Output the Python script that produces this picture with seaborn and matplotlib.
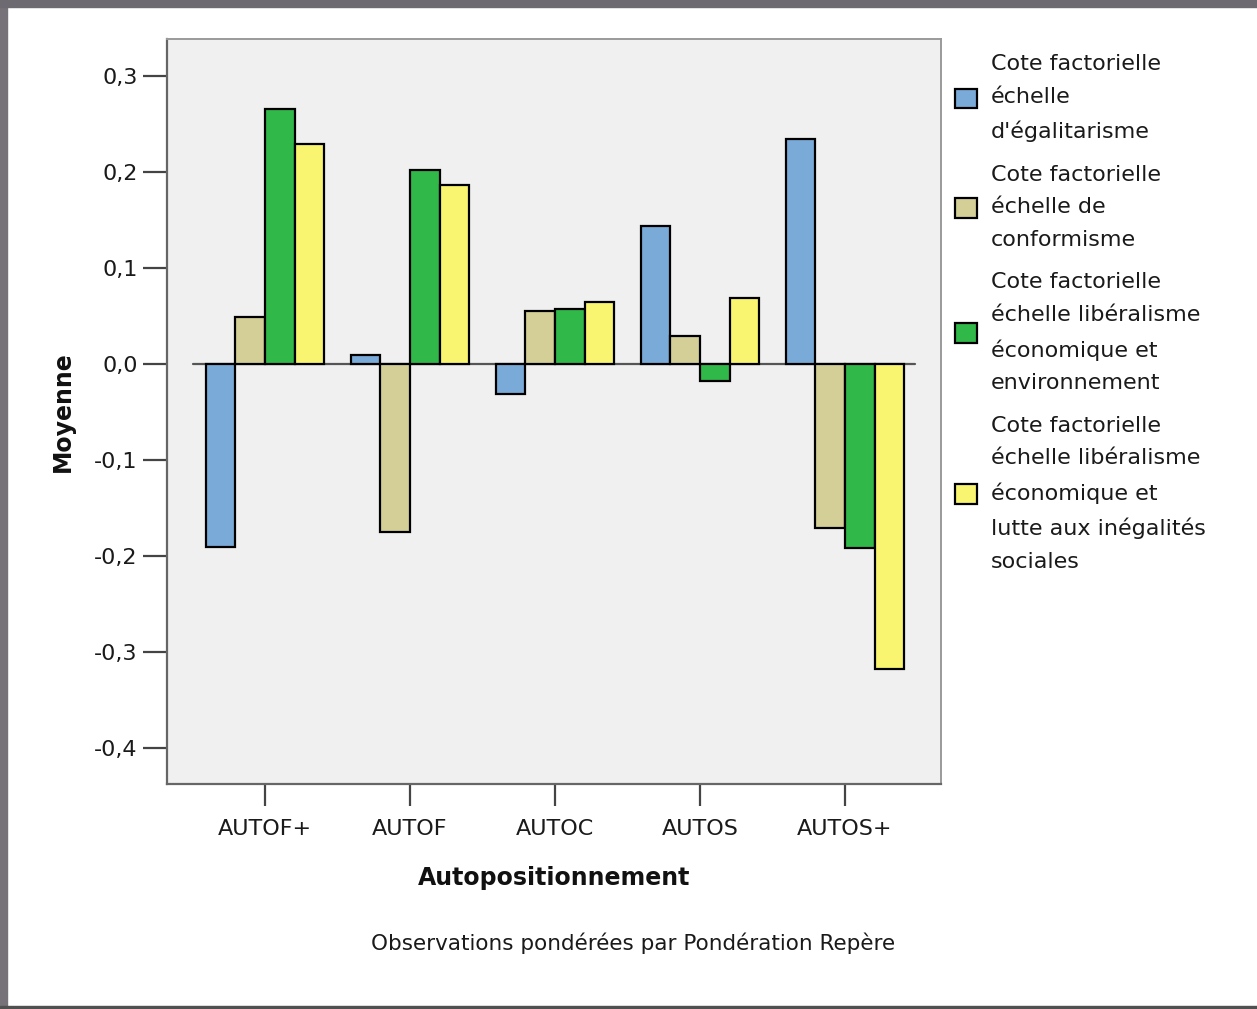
import numpy as np
import pandas as pd
import matplotlib
matplotlib.use("Agg")
import matplotlib.pyplot as plt
from matplotlib.patches import Rectangle, Patch
import seaborn as sns

categories = ["AUTOF+", "AUTOF", "AUTOC", "AUTOS", "AUTOS+"]
series = [
    "Cote factorielle\néchelle\nd'égalitarisme",
    "Cote factorielle\néchelle de\nconformisme",
    "Cote factorielle\néchelle libéralisme\néconomique et\nenvironnement",
    "Cote factorielle\néchelle libéralisme\néconomique et\nlutte aux inégalités\nsociales",
]
egalitarisme = [-0.191, 0.009, -0.031, 0.144, 0.235]
conformisme = [0.049, -0.175, 0.055, 0.029, -0.171]
liberal_env = [0.266, 0.202, 0.057, -0.018, -0.192]
liberal_ineg = [0.229, 0.187, 0.065, 0.069, -0.318]
colors = ["#7aaad8", "#d4cf96", "#30b848", "#faf570"]
yticks = [-0.4, -0.3, -0.2, -0.1, 0.0, 0.1, 0.2, 0.3]
ytick_labels = ["-0,4", "-0,3", "-0,2", "-0,1", "0,0", "0,1", "0,2", "0,3"]

rows = []
for name, vals in zip(series, [egalitarisme, conformisme, liberal_env, liberal_ineg]):
    for cat, v in zip(categories, vals):
        rows.append({"Autopositionnement": cat, "serie": name, "Moyenne": v})
df = pd.DataFrame(rows)

sns.set_style("white")
plt.rcParams["font.family"] = ["DejaVu Sans"]

fig = plt.figure(figsize=(12.57, 10.09), dpi=100)
ax = fig.add_axes([167 / 1257, 1 - 784 / 1009, 774 / 1257, 745 / 1009])
ax.set_facecolor("#f0f0f0")

sns.barplot(data=df, x="Autopositionnement", y="Moyenne", hue="serie",
            hue_order=series, order=categories, palette=colors, saturation=1,
            width=0.82, errorbar=None, edgecolor="black", linewidth=1.6,
            ax=ax, zorder=3)
ax.get_legend().remove()

ax.set_xlim(-0.676, 4.662)
ax.set_ylim(-0.438, 0.339)
ax.axhline(0, xmin=26 / 774, xmax=748 / 774, color="#555555", lw=1.6, zorder=2)

ax.set_yticks(yticks)
ax.set_yticklabels(ytick_labels)
ax.tick_params(axis="y", direction="out", length=17, width=1.6, color="#444444",
               pad=4, labelsize=16, labelcolor="#1a1a1a", left=True)
ax.tick_params(axis="x", direction="out", length=16, width=1.6, color="#444444",
               pad=9, labelsize=16, labelcolor="#1a1a1a", bottom=True)
ax.set_xlabel("")
ax.set_ylabel("")

for side in ["top", "right"]:
    ax.spines[side].set_color("#9a9a9a")
    ax.spines[side].set_linewidth(1.4)
ax.spines["left"].set_color("#666666")
ax.spines["left"].set_linewidth(1.6)
ax.spines["bottom"].set_color("#666666")
ax.spines["bottom"].set_linewidth(1.6)

fig.text(63 / 1257, 1 - 412 / 1009, "Moyenne", rotation=90, ha="center",
         va="center", fontsize=17, fontweight="bold", color="#111111")
fig.text(554 / 1257, 1 - 878 / 1009, "Autopositionnement", ha="center",
         va="center", fontsize=17, fontweight="bold", color="#111111")
fig.text(633 / 1257, 1 - 943 / 1009, "Observations pondérées par Pondération Repère",
         ha="center", va="center", fontsize=15.5, color="#1a1a1a")

handles = [Patch(facecolor=c, edgecolor="black", linewidth=1.6) for c in colors]
leg = fig.legend(handles, series, loc="upper left",
                 bbox_to_anchor=(955 / 1257, 1 - 54 / 1009), frameon=False,
                 fontsize=16, handlelength=1.0, handleheight=1.0, handletextpad=0.6,
                 labelspacing=1.0, borderpad=0, borderaxespad=0,
                 labelcolor="#1a1a1a")
for t in leg.get_texts():
    t.set_linespacing(1.8)

# frame of the output window
fig.patches.append(Rectangle((0, 0), 7 / 1257, 1, transform=fig.transFigure,
                             color="#77717a", zorder=0))
fig.patches.append(Rectangle((0, 1 - 7 / 1009), 1, 7 / 1009, transform=fig.transFigure,
                             color="#6e6a72", zorder=0))
fig.patches.append(Rectangle((0, 0), 1, 3 / 1009, transform=fig.transFigure,
                             color="#505050", zorder=0))

fig.savefig("out.png", dpi=100, facecolor="white")
